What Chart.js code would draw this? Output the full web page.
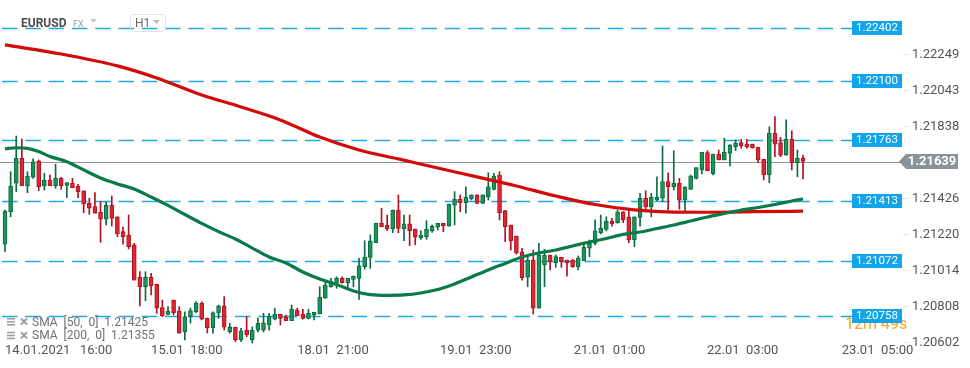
<!DOCTYPE html>
<html><head><meta charset="utf-8">
<script src="https://cdn.jsdelivr.net/npm/chart.js@4/dist/chart.umd.min.js"></script>
<style>html,body{margin:0;padding:0;background:#fff;overflow:hidden}canvas{display:block}</style>
</head><body>
<canvas id="c" width="970" height="368"></canvas>
<script>
// ---- data (EURUSD, H1 candles) ----
const open=[1.21166,1.21352,1.21515,1.21658,1.21499,1.21549,1.21642,1.21499,1.21533,1.21501,
1.21543,1.21503,1.21515,1.21499,1.21471,1.21400,1.21381,1.21349,1.21309,1.21390,
1.21323,1.21238,1.21219,1.21162,1.20977,1.20923,1.20977,1.20937,1.20803,1.20765,
1.20847,1.20784,1.20666,1.20752,1.20780,1.20828,1.20742,1.20689,1.20771,1.20813,
1.20666,1.20691,1.20618,1.20675,1.20618,1.20675,1.20675,1.20704,1.20737,1.20765,
1.20748,1.20729,1.20790,1.20765,1.20742,1.20761,1.20767,1.20857,1.20923,1.20943,
1.20971,1.20946,1.20965,1.20971,1.21038,1.21091,1.21175,1.21286,1.21276,1.21253,
1.21362,1.21253,1.21282,1.21253,1.21203,1.21209,1.21242,1.21263,1.21286,1.21270,
1.21390,1.21423,1.21404,1.21425,1.21448,1.21400,1.21438,1.21480,1.21562,1.21358,
1.21276,1.21213,1.21122,1.20977,1.21076,1.20800,1.21047,1.21104,1.21060,1.21091,
1.21076,1.21076,1.21038,1.21072,1.21143,1.21171,1.21232,1.21251,1.21299,1.21289,
1.21352,1.21320,1.21190,1.21320,1.21429,1.21381,1.21419,1.21429,1.21524,1.21495,
1.21515,1.21419,1.21480,1.21543,1.21591,1.21690,1.21568,1.21682,1.21648,1.21686,
1.21724,1.21747,1.21739,1.21739,1.21720,1.21652,1.21562,1.21800,1.21747,1.21676,
1.21766,1.21632,1.21658];
const high=[1.21362,1.21581,1.21785,1.21768,1.21581,1.21654,1.21648,1.21572,1.21562,1.21623,
1.21549,1.21518,1.21543,1.21509,1.21471,1.21429,1.21461,1.21409,1.21409,1.21442,
1.21323,1.21266,1.21333,1.21171,1.21009,1.21009,1.21000,1.20937,1.20847,1.20809,
1.20847,1.20809,1.20780,1.20801,1.20837,1.20837,1.20744,1.20780,1.20818,1.20866,
1.20714,1.20691,1.20685,1.20752,1.20693,1.20744,1.20771,1.20771,1.20800,1.20765,
1.20761,1.20818,1.20800,1.20794,1.20794,1.20777,1.20923,1.20961,1.20971,1.20980,
1.20980,1.20971,1.20984,1.21086,1.21186,1.21219,1.21286,1.21372,1.21333,1.21362,
1.21448,1.21333,1.21333,1.21253,1.21242,1.21301,1.21276,1.21286,1.21286,1.21396,
1.21467,1.21448,1.21495,1.21448,1.21448,1.21448,1.21575,1.21572,1.21581,1.21358,
1.21276,1.21213,1.21143,1.21095,1.21133,1.21171,1.21137,1.21104,1.21104,1.21091,
1.21076,1.21080,1.21099,1.21171,1.21190,1.21305,1.21333,1.21323,1.21314,1.21362,
1.21352,1.21362,1.21323,1.21457,1.21472,1.21457,1.21552,1.21728,1.21575,1.21701,
1.21543,1.21495,1.21562,1.21604,1.21692,1.21701,1.21682,1.21705,1.21772,1.21734,
1.21762,1.21766,1.21766,1.21739,1.21720,1.21652,1.21838,1.21896,1.21778,1.21877,
1.21815,1.21705,1.21676];
const low=[1.21123,1.21323,1.21467,1.21501,1.21461,1.21543,1.21472,1.21476,1.21501,1.21486,
1.21480,1.21432,1.21489,1.21432,1.21346,1.21337,1.21343,1.21177,1.21276,1.21270,
1.21209,1.21166,1.21139,1.20961,1.20813,1.20843,1.20876,1.20771,1.20752,1.20761,
1.20761,1.20657,1.20618,1.20715,1.20774,1.20733,1.20658,1.20657,1.20742,1.20675,
1.20657,1.20609,1.20609,1.20637,1.20601,1.20664,1.20664,1.20675,1.20733,1.20704,
1.20729,1.20729,1.20757,1.20738,1.20738,1.20733,1.20767,1.20857,1.20920,1.20914,
1.20943,1.20914,1.20923,1.20851,1.21023,1.21028,1.21175,1.21266,1.21243,1.21232,
1.21232,1.21186,1.21158,1.21162,1.21194,1.21194,1.21234,1.21247,1.21238,1.21270,
1.21276,1.21352,1.21343,1.21419,1.21400,1.21400,1.21419,1.21476,1.21305,1.21181,
1.21133,1.21110,1.20961,1.20923,1.20767,1.20800,1.20923,1.21019,1.21034,1.21034,
1.20984,1.21034,1.21019,1.21072,1.21095,1.21162,1.21225,1.21242,1.21270,1.21286,
1.21289,1.21175,1.21152,1.21270,1.21366,1.21323,1.21415,1.21409,1.21362,1.21476,
1.21366,1.21358,1.21480,1.21539,1.21568,1.21587,1.21562,1.21648,1.21648,1.21614,
1.21701,1.21715,1.21715,1.21715,1.21632,1.21533,1.21518,1.21667,1.21667,1.21676,
1.21591,1.21552,1.21539];
const close=[1.21356,1.21499,1.21658,1.21501,1.21556,1.21638,1.21495,1.21533,1.21501,1.21543,
1.21499,1.21518,1.21489,1.21467,1.21396,1.21372,1.21343,1.21309,1.21390,1.21314,
1.21225,1.21209,1.21152,1.20961,1.20923,1.20977,1.20927,1.20800,1.20756,1.20784,
1.20774,1.20657,1.20752,1.20786,1.20830,1.20738,1.20689,1.20774,1.20813,1.20691,
1.20694,1.20618,1.20670,1.20647,1.20675,1.20714,1.20717,1.20752,1.20765,1.20742,
1.20729,1.20794,1.20757,1.20742,1.20771,1.20777,1.20862,1.20933,1.20952,1.20971,
1.20946,1.20971,1.20984,1.21042,1.21091,1.21186,1.21286,1.21266,1.21253,1.21362,
1.21257,1.21282,1.21243,1.21206,1.21219,1.21251,1.21270,1.21286,1.21272,1.21396,
1.21423,1.21404,1.21434,1.21448,1.21400,1.21448,1.21495,1.21556,1.21346,1.21266,
1.21185,1.21116,1.20975,1.21076,1.20800,1.21104,1.21104,1.21066,1.21095,1.21066,
1.21060,1.21038,1.21086,1.21148,1.21171,1.21242,1.21257,1.21299,1.21282,1.21352,
1.21305,1.21190,1.21323,1.21429,1.21381,1.21434,1.21434,1.21524,1.21495,1.21515,
1.21419,1.21495,1.21556,1.21604,1.21692,1.21587,1.21682,1.21648,1.21692,1.21734,
1.21745,1.21728,1.21724,1.21718,1.21648,1.21562,1.21800,1.21738,1.21676,1.21766,
1.21632,1.21658,1.21639];

const sma50Idx=[0,2,4,6,8,11,14,17,20,23,26,29,32,35,38,41,44,47,50,53,56,59,62,65,68,71,74,77,80,83,86,89,92,95,98,101,104,107,110,113,116,119,122,125,128,131,134,137,140,142];
const sma50=[1.21711,1.21718,1.21714,1.21696,1.21668,1.21638,1.21591,1.21545,1.21511,1.21482,1.21436,1.21388,1.21336,1.21285,1.21238,1.21196,1.21144,1.21093,1.21059,1.21007,1.20967,1.20936,1.20899,1.20878,1.20874,1.20876,1.20887,1.20907,1.20939,1.20979,1.21019,1.21056,1.21093,1.21116,1.21133,1.21156,1.21179,1.21199,1.21222,1.21236,1.21256,1.21276,1.21299,1.21322,1.21342,1.21362,1.21376,1.21393,1.21413,1.21425];
const sma200Idx=[0,10,20,27,35,42,49,56,63,70,77,84,91,98,105,112,119,126,133,142];
const sma200=[1.22306,1.22254,1.22186,1.22117,1.22020,1.21951,1.21877,1.21779,1.21705,1.21654,1.21602,1.21551,1.21499,1.21442,1.21393,1.21362,1.21350,1.21349,1.21352,1.21355];

const xTickIdx=[0,26,52,77.4,101.2,124.9,148.9];
const xTickLabels=['14.01.2021   16:00','15.01  18:00','18.01  21:00','19.01  23:00','21.01  01:00','22.01  03:00','23.01  05:00'];
const yTickValues=[1.20602,1.20808,1.21014,1.21220,1.21426,1.21838,1.22043,1.22249];
const levels=[1.22402,1.22100,1.21763,1.21413,1.21072,1.20758];
const lastPrice=1.21639;
const symbol='EURUSD', market='FX', interval='H1', countdown='12m 49s';
const legendItems=['SMA  [50,  0]  1.21425','SMA  [200,  0]  1.21355'];

// ---- styles ----
const GREEN='#1a955d', GREEN_D='#0b6a3e', RED='#df2634', RED_D='#ad1320';
const up=i=>close[i]>=open[i];

const overlay={
  id:'overlay',
  beforeDatasetsDraw(chart){
    const {ctx,scales:{y}}=chart;
    ctx.save();
    const py=Math.round(y.getPixelForValue(lastPrice))+0.5;
    ctx.strokeStyle='#8d9397';ctx.lineWidth=1;
    ctx.beginPath();ctx.moveTo(0,py);ctx.lineTo(902,py);ctx.stroke();
    ctx.setLineDash([15.5,7.8]);ctx.strokeStyle='#22a7e8';ctx.lineWidth=1.3;
    levels.forEach(v=>{const ly=Math.round(y.getPixelForValue(v))+0.5;
      ctx.beginPath();ctx.moveTo(2,ly);ctx.lineTo(852,ly);ctx.stroke();});
    ctx.restore();
  },
  afterDraw(chart){
    const {ctx,scales:{y}}=chart;
    ctx.save();
    // countdown (partly hidden)
    ctx.font='16px Roboto';ctx.fillStyle='#f5a623';ctx.textAlign='left';ctx.textBaseline='alphabetic';
    ctx.fillText(countdown,845,329);
    // level boxes
    ctx.font='11.5px Roboto';ctx.textAlign='center';ctx.textBaseline='middle';
    levels.forEach(v=>{const ly=Math.round(y.getPixelForValue(v));
      ctx.fillStyle='#12a5ec';ctx.fillRect(852,ly-7,50,14);
      ctx.fillStyle='#fff';ctx.fillText(v.toFixed(5),877,ly+0.5);});
    // last price tag
    const py=y.getPixelForValue(lastPrice);
    ctx.fillStyle='#8a9498';ctx.beginPath();
    ctx.moveTo(899,py);ctx.lineTo(906,py-7.5);ctx.lineTo(958,py-7.5);ctx.lineTo(958,py+7.5);ctx.lineTo(906,py+7.5);ctx.closePath();ctx.fill();
    ctx.fillStyle='#fff';ctx.font='bold 13px Roboto';ctx.textAlign='center';
    ctx.fillText(lastPrice.toFixed(5),932,py+0.5);
    // header
    ctx.textAlign='left';ctx.textBaseline='alphabetic';
    ctx.fillStyle='#4d4d4d';ctx.font='bold 12px Roboto';ctx.fillText(symbol,21,27);
    ctx.fillStyle='#8fa3ad';ctx.font='9px Roboto';ctx.fillText(market,73,27);
    ctx.fillStyle='#c9c9c9';ctx.beginPath();ctx.moveTo(90,19);ctx.lineTo(97,19);ctx.lineTo(93.5,23);ctx.closePath();ctx.fill();
    ctx.strokeStyle='#e2e2e2';ctx.lineWidth=1;ctx.beginPath();ctx.roundRect(130.5,14.5,35,17,3);ctx.stroke();
    ctx.fillStyle='#666';ctx.font='12px Roboto';ctx.fillText(interval,135,27);
    ctx.fillStyle='#bdbdbd';ctx.beginPath();ctx.moveTo(153,20);ctx.lineTo(160,20);ctx.lineTo(156.5,24);ctx.closePath();ctx.fill();
    // legend
    legendItems.forEach((t,i)=>{const cy=322+i*13.7;
      ctx.fillStyle='#a0a0a0';
      ctx.fillRect(7,cy-4,8,1.6);ctx.fillRect(7,cy-1,8,1.6);ctx.fillRect(7,cy+2,8,1.6);
      ctx.strokeStyle='#a0a0a0';ctx.lineWidth=2;ctx.beginPath();
      ctx.moveTo(21,cy-3.5);ctx.lineTo(27,cy+2.5);ctx.moveTo(27,cy-3.5);ctx.lineTo(21,cy+2.5);ctx.stroke();
      ctx.fillStyle='#707070';ctx.font='12px Roboto';ctx.textBaseline='middle';ctx.fillText(t,32,cy+0.5);
      ctx.textBaseline='alphabetic';});
    ctx.restore();
  }
};

const idx=open.map((_,i)=>i);
new Chart(document.getElementById('c'),{
  type:'bar',
  data:{datasets:[
    {type:'line',label:'SMA50',data:sma50Idx.map((x,i)=>({x,y:sma50[i]})),borderColor:'#097a48',borderWidth:3.2,pointRadius:0,cubicInterpolationMode:'monotone',order:1},
    {type:'line',label:'SMA200',data:sma200Idx.map((x,i)=>({x,y:sma200[i]})),borderColor:'#d20a0a',borderWidth:3.2,pointRadius:0,cubicInterpolationMode:'monotone',order:2},
    {label:'body',data:idx.map(i=>({x:i,y:[Math.min(open[i],close[i]),Math.max(open[i],close[i])]})),
      backgroundColor:c=>up(c.dataIndex)?GREEN:RED,borderColor:c=>up(c.dataIndex)?GREEN_D:RED_D,
      borderWidth:1,borderSkipped:false,barThickness:4,minBarLength:2,grouped:false,order:3,clip:false},
    {label:'wick',data:idx.map(i=>({x:i,y:[low[i],high[i]]})),
      backgroundColor:c=>up(c.dataIndex)?GREEN_D:RED_D,borderWidth:0,barThickness:1,grouped:false,order:4,clip:false}
  ]},
  options:{
    responsive:false,animation:false,devicePixelRatio:1,
    layout:{padding:0},
    plugins:{legend:{display:false},tooltip:{enabled:false}},
    scales:{
      x:{type:'linear',min:-0.89,max:159.79,offset:false,
        grid:{drawOnChartArea:false,drawTicks:false,offset:false},border:{display:false},
        afterBuildTicks:s=>{s.ticks=xTickIdx.map(v=>({value:v}));},
        afterFit:s=>{s.height=23;s.paddingLeft=0;s.paddingRight=0;},
        ticks:{align:'start',maxRotation:0,autoSkip:false,padding:-2,color:'#555',font:{family:'Roboto',size:13},
          callback:(v,i)=>xTickLabels[i]}},
      y:{type:'linear',position:'right',min:1.205896,max:1.22563,
        grid:{drawOnChartArea:false,tickLength:6,color:'#e3e3e3'},border:{display:false},
        afterBuildTicks:s=>{s.ticks=yTickValues.map(v=>({value:v}));},
        afterFit:s=>{s.width=67;s.paddingTop=0;s.paddingBottom=0;},
        ticks:{padding:3,color:'#555',font:{family:'Roboto',size:13},callback:v=>Number(v).toFixed(5)}}
    }
  },
  plugins:[overlay]
});
</script>
</body></html>
